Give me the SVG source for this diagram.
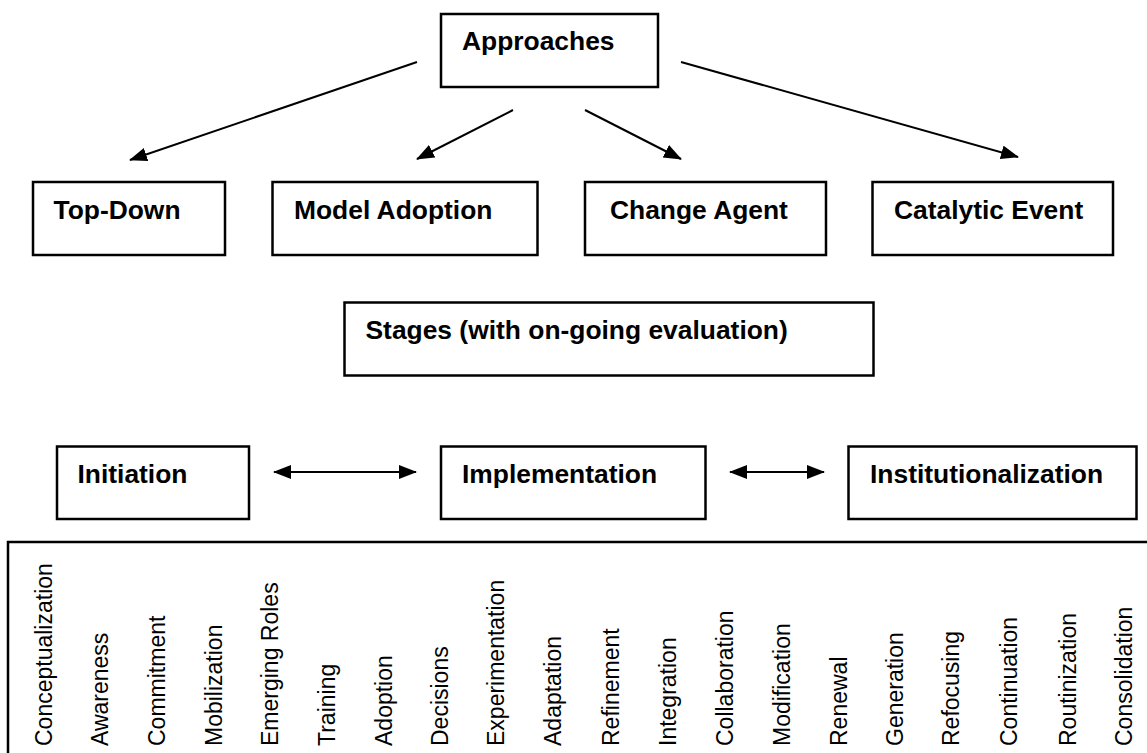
<svg xmlns="http://www.w3.org/2000/svg" width="1147" height="753" viewBox="0 0 1147 753">
<style>
.box{fill:#fff;stroke:#000;stroke-width:2.5}
.t{font-family:"Liberation Sans",Arial,sans-serif;font-weight:bold;font-size:26.4px;fill:#000}
.l{font-family:"Liberation Sans",Arial,sans-serif;font-size:23px;fill:#000}
.c{fill:none;stroke:#000;stroke-width:2}
</style>
<defs>
<marker id="ah" markerUnits="userSpaceOnUse" markerWidth="19" markerHeight="15" refX="17" refY="7" orient="auto-start-reverse" viewBox="0 0 19 15">
<path d="M0,0 L18,7 L0,14 z" fill="#000"/>
</marker>
</defs>
<rect width="1147" height="753" fill="#fff"/>
<g id="connectors">
<line class="c" x1="417" y1="62" x2="130" y2="160" marker-end="url(#ah)"/>
<line class="c" x1="513" y1="110" x2="417" y2="159" marker-end="url(#ah)"/>
<line class="c" x1="585" y1="110" x2="681" y2="159" marker-end="url(#ah)"/>
<line class="c" x1="681" y1="62" x2="1018" y2="157" marker-end="url(#ah)"/>
<line class="c" x1="274" y1="472" x2="416" y2="472" marker-start="url(#ah)" marker-end="url(#ah)"/>
<line class="c" x1="730" y1="472" x2="824" y2="472" marker-start="url(#ah)" marker-end="url(#ah)"/>
</g>
<g id="approaches"><rect class="box" x="441" y="14" width="217" height="73"/><text class="t" x="462" y="50">Approaches</text></g>
<g id="top-down"><rect class="box" x="33" y="182" width="192" height="73"/><text class="t" x="53.5" y="219">Top-Down</text></g>
<g id="model-adoption"><rect class="box" x="272.5" y="182" width="265" height="73"/><text class="t" x="294" y="219">Model Adoption</text></g>
<g id="change-agent"><rect class="box" x="585" y="182" width="241" height="73"/><text class="t" x="610" y="219">Change Agent</text></g>
<g id="catalytic-event"><rect class="box" x="872.5" y="182" width="240.5" height="73"/><text class="t" x="894" y="219">Catalytic Event</text></g>
<g id="stages"><rect class="box" x="344.5" y="302.5" width="529" height="73"/><text class="t" x="365.5" y="339">Stages (with on-going evaluation)</text></g>
<g id="initiation"><rect class="box" x="57" y="446.5" width="192" height="72.5"/><text class="t" x="77.5" y="483">Initiation</text></g>
<g id="implementation"><rect class="box" x="441" y="446.5" width="264.5" height="72.5"/><text class="t" x="462" y="483">Implementation</text></g>
<g id="institutionalization"><rect class="box" x="848.5" y="446.5" width="288" height="72.5"/><text class="t" x="870" y="483">Institutionalization</text></g>
<g id="activities">
<rect class="box" x="8" y="542" width="1160" height="230"/>
<text class="l" transform="translate(51.7,746) rotate(-90)">Conceptualization</text>
<text class="l" transform="translate(108.4,746) rotate(-90)">Awareness</text>
<text class="l" transform="translate(165.2,746) rotate(-90)">Commitment</text>
<text class="l" transform="translate(221.8,746) rotate(-90)">Mobilization</text>
<text class="l" transform="translate(278.4,746) rotate(-90)">Emerging Roles</text>
<text class="l" transform="translate(334.5,746) rotate(-90)">Training</text>
<text class="l" transform="translate(391.5,746) rotate(-90)">Adoption</text>
<text class="l" transform="translate(447.5,746) rotate(-90)">Decisions</text>
<text class="l" transform="translate(503.5,746) rotate(-90)">Experimentation</text>
<text class="l" transform="translate(561,746) rotate(-90)">Adaptation</text>
<text class="l" transform="translate(619,746) rotate(-90)">Refinement</text>
<text class="l" transform="translate(675.5,746) rotate(-90)">Integration</text>
<text class="l" transform="translate(732.5,746) rotate(-90)">Collaboration</text>
<text class="l" transform="translate(789.5,746) rotate(-90)">Modification</text>
<text class="l" transform="translate(846.5,746) rotate(-90)">Renewal</text>
<text class="l" transform="translate(903,746) rotate(-90)">Generation</text>
<text class="l" transform="translate(959,746) rotate(-90)">Refocusing</text>
<text class="l" transform="translate(1016.5,746) rotate(-90)">Continuation</text>
<text class="l" transform="translate(1075.5,746) rotate(-90)">Routinization</text>
<text class="l" transform="translate(1132,746) rotate(-90)">Consolidation</text>
</g>
</svg>
